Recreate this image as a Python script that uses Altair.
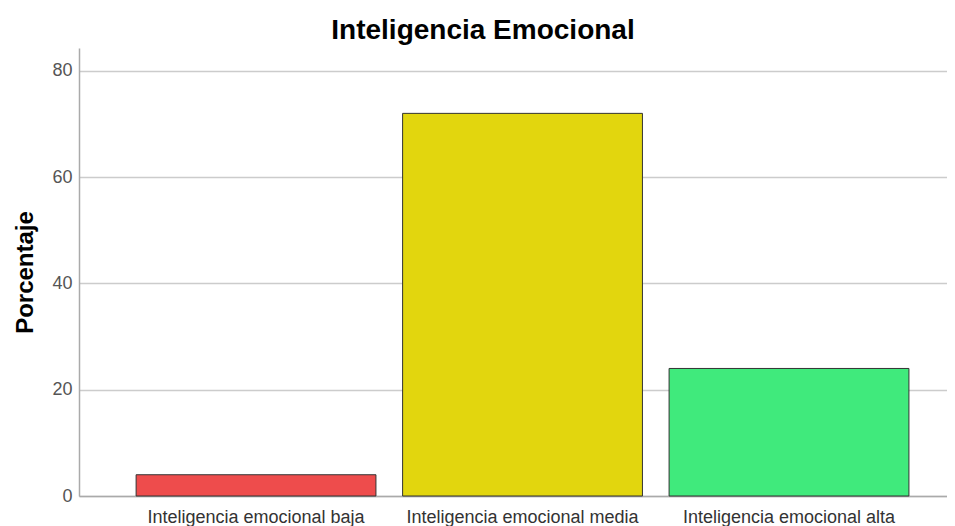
import altair as alt
import pandas as pd

categories = ["Inteligencia emocional baja", "Inteligencia emocional media", "Inteligencia emocional alta"]
values = [4, 72, 24]
colors = ["#EE4C4C", "#E2D60E", "#40EA7C"]
y_ticks = [0, 20, 40, 60, 80]

df = pd.DataFrame({"cat": categories, "pct": values})

FONT = "Liberation Sans"

chart = alt.Chart(df).mark_bar(stroke="#333333", strokeWidth=1).encode(
    x=alt.X("cat:N", sort=categories,
            scale=alt.Scale(paddingInner=0.1, paddingOuter=0.1786, align=0.6),
            axis=alt.Axis(title=None, labelAngle=0, ticks=False, labelFontSize=18,
                          labelFont=FONT, labelColor="#333333", labelPadding=12,
                          labelLimit=0,
                          domainColor="#aaaaaa", domainWidth=1.5, grid=False)),
    y=alt.Y("pct:Q", scale=alt.Scale(domain=[0, 84.3], nice=False),
            axis=alt.Axis(title="Porcentaje", values=y_ticks, ticks=False,
                          labelFontSize=18, labelFont=FONT, labelColor="#555555",
                          labelPadding=7, titleFont=FONT, titleFontSize=24,
                          titleFontWeight="bold", titleColor="#000000", titlePadding=14,
                          domainColor="#aaaaaa", domainWidth=1.5,
                          gridColor="#cccccc", gridWidth=1.5)),
    color=alt.Color("cat:N", sort=categories,
                    scale=alt.Scale(domain=categories, range=colors), legend=None),
).properties(
    width=868,
    height=448,
    title=alt.TitleParams("Inteligencia Emocional", font=FONT, fontSize=28,
                          fontWeight="bold", color="#000000", offset=3, dx=-30),
    autosize=alt.AutoSizeParams(type="none"),
    padding={"left": 71, "top": 40, "right": 0, "bottom": 32},
).configure_view(stroke=None)

chart.save("out.html", embed_options={"renderer": "svg", "actions": False})
